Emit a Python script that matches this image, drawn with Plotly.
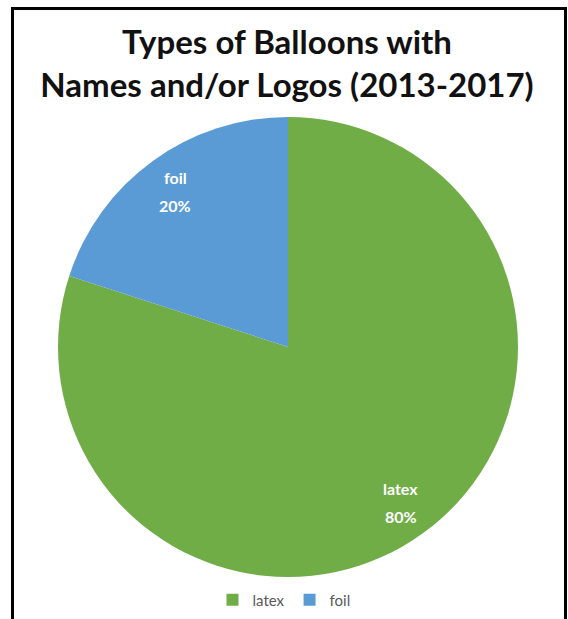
import math
import plotly.graph_objects as go

categories = ["latex", "foil"]
values = [80, 20]
colors = ["#70AD47", "#5B9BD5"]
title_text = "Types of Balloons with<br>Names and/or Logos (2013-2017)"

W, H = 568, 619
cx, cy, R = 288, 347, 230
FONT = "Lato, Open Sans, sans-serif"

fig = go.Figure(go.Pie(
    labels=categories,
    values=values,
    sort=False,
    direction="clockwise",
    rotation=0,
    marker=dict(colors=colors, line=dict(width=0)),
    textinfo="none",
    hoverinfo="label+percent",
    domain=dict(x=[(cx - R) / W, (cx + R) / W], y=[1 - (cy + R) / H, 1 - (cy - R) / H]),
))

# data labels placed at each slice's mid-angle, computed from the values
total = sum(values)
annotations = []
start = 0.0
for name, v in zip(categories, values):
    mid = (start + v / 2) / total * 2 * math.pi
    start += v
    r = 0.835 * R
    px = cx + r * math.sin(mid)
    py = cy - r * math.cos(mid)
    pct = f"{round(v / total * 100)}%"
    for txt, dy in ((name, -14), (pct, 14)):
        annotations.append(dict(
            text=f"<b>{txt}</b>", xref="paper", yref="paper",
            x=px / W, y=1 - (py + dy) / H, xanchor="center", yanchor="middle",
            showarrow=False, font=dict(family=FONT, size=16, color="white")))

fig.update_layout(
    width=W, height=H,
    margin=dict(l=0, r=0, t=0, b=0),
    paper_bgcolor="white",
    title=dict(text="<b>" + title_text + "</b>", x=287 / W, xanchor="center",
               y=1 - 54 / H, yanchor="middle",
               font=dict(family=FONT, size=33, color="#111111")),
    legend=dict(orientation="h", x=284 / W, xanchor="center", y=1 - 600 / H, yanchor="middle",
                font=dict(family=FONT, size=15, color="#595959"),
                itemwidth=30, traceorder="normal"),
    annotations=annotations,
    shapes=[dict(type="rect", xref="paper", yref="paper",
                 x0=12.5 / W, x1=565.5 / W, y0=-0.05, y1=1 - 8.5 / H,
                 line=dict(color="black", width=3))],
)

fig.write_html("out.html", config={"displayModeBar": False},
               post_script="document.body.style.margin='0';document.body.style.overflow='hidden';")
